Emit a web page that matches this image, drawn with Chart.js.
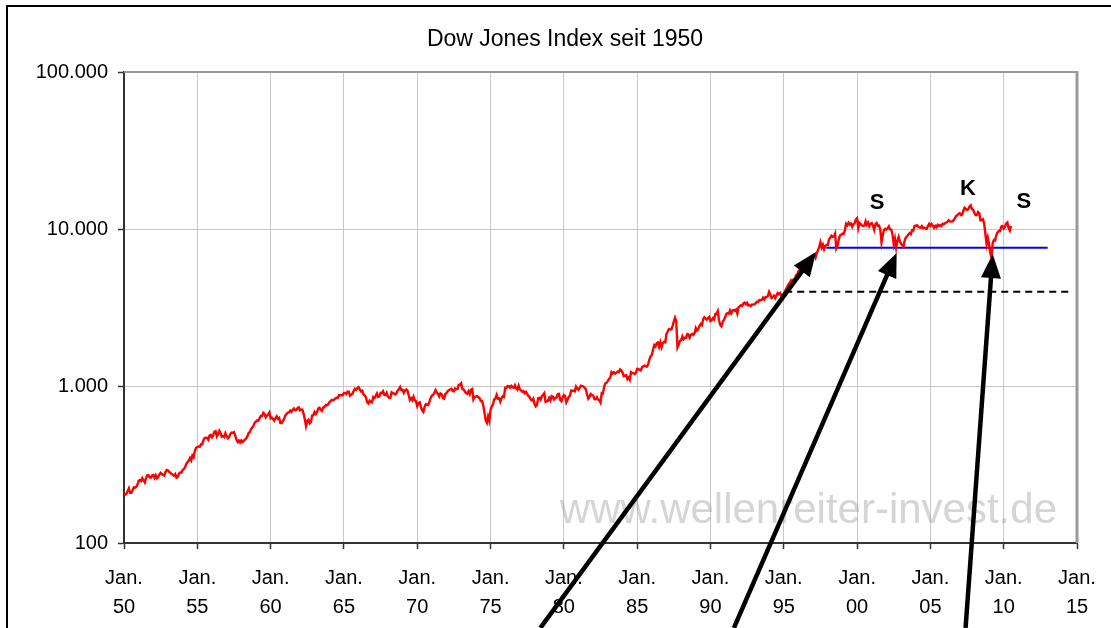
<!DOCTYPE html>
<html>
<head>
<meta charset="utf-8">
<script src="https://cdn.jsdelivr.net/npm/chart.js@4.4.1/dist/chart.umd.min.js"></script>
<style>
html,body{margin:0;padding:0;background:#fff;}
#wrap{position:relative;width:1111px;height:628px;overflow:hidden;}
canvas{display:block;}
</style>
</head>
<body>
<div id="wrap"><canvas id="c" width="1111" height="628"></canvas></div>
<script>
// ---------------- DATA ----------------
const chartTitle = 'Dow Jones Index seit 1950';
const startYear = 1950;          // first month: Jan 1950, one value per month
const dow1950s = [
  202,203,206,214,223,209,209,217,226,225,228,235,
  249,252,248,259,251,243,258,270,271,262,261,269,
  271,260,270,258,263,274,280,275,271,269,284,292,
  290,284,280,275,272,268,275,261,264,276,281,281,
  292,295,304,319,328,334,348,336,361,352,387,404,
  409,412,410,426,425,451,466,468,467,455,483,488,
  471,484,512,516,478,493,518,502,475,480,473,500,
  479,465,475,494,505,503,508,484,456,441,450,436,
  450,440,447,456,463,478,502,509,532,543,558,584,
  594,604,602,624,644,644,675,664,632,647,659,679
];
const dow1960s = [
  623,630,617,602,626,641,617,626,580,580,597,616,
  648,662,677,679,697,684,705,720,701,704,722,731,
  700,708,707,665,613,555,598,609,579,590,649,652,
  683,663,683,718,727,707,695,729,733,755,751,763,
  785,800,813,811,821,832,841,839,875,873,875,874,
  903,904,889,922,918,868,882,893,931,961,947,969,
  984,952,925,934,884,870,847,788,774,807,792,786,
  850,839,866,897,853,860,904,901,927,880,876,905,
  856,841,841,912,899,898,883,896,936,952,985,944,
  946,905,936,950,938,873,816,837,813,856,812,800
];
const dow1970s = [
  744,778,786,736,700,684,734,765,761,756,794,839,
  869,879,904,942,908,891,858,898,887,839,831,890,
  902,928,941,954,961,929,925,964,953,956,1018,1020,
  1040,955,951,921,901,892,926,888,947,957,822,851,
  856,861,847,837,802,802,757,679,608,584,640,600,
  704,739,768,821,832,879,832,835,794,836,861,852,
  975,973,1000,997,975,1003,985,974,1010,965,947,1005,
  954,936,919,927,899,916,890,862,847,818,810,831,
  770,742,757,837,841,819,862,877,900,793,799,805,
  839,809,862,855,822,842,846,888,890,816,800,839
];
const dow1980s = [
  876,863,786,817,851,868,935,933,932,925,993,964,
  947,975,1004,998,992,977,952,882,830,853,889,875,
  871,824,823,848,820,812,785,901,896,992,1039,1047,
  1076,1113,1130,1226,1200,1222,1199,1216,1233,1225,1276,1259,
  1221,1155,1165,1171,1105,1132,1095,1224,1207,1207,1189,1212,
  1287,1284,1267,1258,1315,1336,1348,1334,1329,1374,1472,1547,
  1571,1709,1819,1784,1877,1893,1775,1898,1768,1878,1914,1896,
  2158,2224,2305,2286,2292,2419,2572,2722,2596,1760,1834,1939,
  1958,2072,1988,2032,2031,2142,2129,2032,2113,2149,2115,2169,
  2342,2258,2294,2419,2480,2440,2661,2737,2693,2645,2706,2753
];
const dow1990s = [
  2591,2627,2707,2657,2877,2881,2999,2614,2453,2400,2560,2634,
  2736,2882,2914,2888,3028,2907,3025,3044,3017,3069,2895,3169,
  3223,3268,3236,3359,3397,3319,3394,3257,3272,3226,3305,3301,
  3310,3371,3435,3428,3527,3516,3540,3651,3555,3681,3684,3754,
  3978,3832,3636,3682,3758,3625,3765,3913,3843,3908,3739,3834,
  3844,4011,4158,4321,4465,4556,4709,4611,4789,4756,5075,5117,
  5395,5486,5587,5569,5643,5655,5529,5616,5882,6029,6522,6448,
  6813,6878,6584,7009,7331,7673,8223,7622,7945,7442,7823,7908,
  7907,8546,8800,9063,8900,8952,9338,7539,7843,8592,9117,9181,
  9359,9307,9786,10789,10560,10971,10655,10829,10337,10730,10878,11497
];
const dow2000s = [
  11723,10128,10922,10734,10522,10448,10522,11215,10651,10971,10415,10788,
  10887,10495,9879,10735,10912,10502,10523,9950,8236,9075,9852,10022,
  9920,10106,10404,9946,9925,9243,8000,8664,7592,8397,8896,8342,
  8054,7891,7700,8480,8850,8985,9234,9416,9275,9801,9783,10454,
  10488,10584,10358,10226,10189,10436,10140,10174,10080,10028,10428,10783,
  10490,10766,10504,10193,10468,10275,10641,10482,10569,10440,10806,10718,
  10865,10993,11109,11367,11168,11150,11186,11381,11679,12081,12222,12463,
  12622,12269,12354,13063,13628,13409,13212,13358,13896,14165,13372,13265,
  12650,12266,12263,12820,12638,11350,11378,11544,10851,9325,8000,8776,
  8001,7063,6547,8168,8500,8447,9172,9496,9712,9713,10345,10428
];
const dow2010s = [10067,10325,10857,11009,10137,9774,10466];

// Horizontal reference lines
const supportBlue = { from: 1997.9, to: 2013.0, level: 7600 };
const supportDashed = { from: 1995.1, to: 2014.7, level: 3990 };

// Axis ticks
const xTickYears = [1950,1955,1960,1965,1970,1975,1980,1985,1990,1995,2000,2005,2010,2015];
const xTickTop = 'Jan.';
const yTickValues = [100, 1000, 10000, 100000];
const yTickLabels = ['100', '1.000', '10.000', '100.000'];

// Annotations (data coordinates)
const arrowTails = [[1978.4, 28.8], [1991.6, 28.8], [2007.4, 28.8]];
const arrowTips  = [[1997.2, 7130], [2002.7, 7030], [2009.25, 6930]];
const markTexts  = ['S', 'K', 'S'];
const markYears  = [2001.37, 2007.57, 2011.37];
const markValues = [14590, 17900, 14930];
const watermarkText = 'www.wellenreiter-invest.de';

// ---------------- BUILD ----------------
const dowValues = [].concat(dow1950s, dow1960s, dow1970s, dow1980s, dow1990s, dow2000s, dow2010s);
const dowPoints = dowValues.map((v, i) => ({ x: startYear + i / 12, y: v }));

const FONT = "'Liberation Sans', Arial, sans-serif";
Chart.defaults.font.family = FONT;
Chart.defaults.color = '#000';

const decor = {
  id: 'decor',
  beforeDraw(chart) {
    const ctx = chart.ctx;
    ctx.save();
    ctx.fillStyle = '#fff';
    ctx.fillRect(0, 0, chart.width, chart.height);
    ctx.strokeStyle = '#000';
    ctx.lineWidth = 2;
    ctx.beginPath();
    ctx.moveTo(7, chart.height + 10);
    ctx.lineTo(7, 6);
    ctx.lineTo(chart.width + 10, 6);
    ctx.stroke();
    // title
    ctx.fillStyle = '#000';
    ctx.font = '23px ' + FONT;
    ctx.textAlign = 'center';
    ctx.textBaseline = 'middle';
    ctx.fillText(chartTitle, 565, 40);
    ctx.restore();
  },
  beforeDatasetsDraw(chart) {
    const ctx = chart.ctx, a = chart.chartArea;
    ctx.save();
    ctx.font = '42px ' + FONT;
    ctx.fillStyle = 'rgba(150,150,150,0.40)';
    ctx.textAlign = 'right';
    ctx.textBaseline = 'alphabetic';
    ctx.fillText(watermarkText, a.right - 20, a.bottom - 20);
    ctx.restore();
  },
  afterDraw(chart) {
    const ctx = chart.ctx, a = chart.chartArea;
    const xs = chart.scales.x, ys = chart.scales.y;
    ctx.save();
    // plot frame top / right
    ctx.strokeStyle = '#999';
    ctx.lineWidth = 2;
    ctx.beginPath();
    ctx.moveTo(a.left, a.top);
    ctx.lineTo(a.right, a.top);
    ctx.stroke();
    ctx.lineWidth = 3;
    ctx.beginPath();
    ctx.moveTo(a.right, a.top - 1);
    ctx.lineTo(a.right, a.bottom);
    ctx.stroke();
    // arrows
    ctx.strokeStyle = '#000';
    ctx.fillStyle = '#000';
    ctx.lineWidth = 4.5;
    ctx.lineCap = 'butt';
    for (let i = 0; i < arrowTips.length; i++) {
      const x0 = xs.getPixelForValue(arrowTails[i][0]);
      const y0 = ys.getPixelForValue(arrowTails[i][1]);
      const x1 = xs.getPixelForValue(arrowTips[i][0]);
      const y1 = ys.getPixelForValue(arrowTips[i][1]);
      const ang = Math.atan2(y1 - y0, x1 - x0);
      const hl = 24, hw = 10;
      const bx = x1 - hl * Math.cos(ang), by = y1 - hl * Math.sin(ang);
      ctx.beginPath();
      ctx.moveTo(x0, y0);
      ctx.lineTo(bx + 2 * Math.cos(ang), by + 2 * Math.sin(ang));
      ctx.stroke();
      ctx.beginPath();
      ctx.moveTo(x1, y1);
      ctx.lineTo(bx + hw * Math.sin(ang), by - hw * Math.cos(ang));
      ctx.lineTo(bx - hw * Math.sin(ang), by + hw * Math.cos(ang));
      ctx.closePath();
      ctx.fill();
    }
    // S / K marks
    ctx.font = 'bold 22px ' + FONT;
    ctx.textAlign = 'center';
    ctx.textBaseline = 'middle';
    for (let i = 0; i < markTexts.length; i++) {
      ctx.fillText(markTexts[i], xs.getPixelForValue(markYears[i]), ys.getPixelForValue(markValues[i]));
    }
    ctx.restore();
  }
};

new Chart(document.getElementById('c'), {
  type: 'line',
  data: {
    datasets: [
      {
        label: 'Dow Jones',
        data: dowPoints,
        borderColor: '#ff0000',
        borderWidth: 2.4,
        pointRadius: 0,
        tension: 0,
        order: 1
      },
      {
        label: 'Unterstützung',
        data: [{ x: supportBlue.from, y: supportBlue.level }, { x: supportBlue.to, y: supportBlue.level }],
        borderColor: '#0000ff',
        borderWidth: 2,
        pointRadius: 0,
        order: 2
      },
      {
        label: 'Linie',
        data: [{ x: supportDashed.from, y: supportDashed.level }, { x: supportDashed.to, y: supportDashed.level }],
        borderColor: '#000',
        borderWidth: 2,
        borderDash: [7, 5],
        pointRadius: 0,
        order: 3
      }
    ]
  },
  options: {
    responsive: false,
    animation: false,
    devicePixelRatio: 1,
    layout: { padding: { left: 0, right: 34, top: 72, bottom: 0 } },
    plugins: {
      legend: { display: false },
      tooltip: { enabled: false },
      title: { display: false }
    },
    scales: {
      x: {
        type: 'linear',
        position: 'bottom',
        min: xTickYears[0],
        max: xTickYears[xTickYears.length - 1],
        afterBuildTicks: s => { s.ticks = xTickYears.map(v => ({ value: v })); },
        afterFit: s => { s.height = 85; },
        ticks: {
          autoSkip: false,
          maxRotation: 0,
          padding: 15,
          color: '#000',
          font: { size: 20, lineHeight: 1.45 },
          callback: v => [xTickTop, String(v % 100).padStart(2, '0')]
        },
        grid: { color: '#c8c8c8', lineWidth: 1, tickLength: 6, tickColor: '#333', tickWidth: 1.5 },
        border: { color: '#333', width: 2 }
      },
      y: {
        type: 'logarithmic',
        position: 'left',
        min: yTickValues[0],
        max: yTickValues[yTickValues.length - 1],
        afterBuildTicks: s => { s.ticks = yTickValues.map(v => ({ value: v, major: true })); },
        afterFit: s => { s.width = 124; },
        ticks: {
          autoSkip: false,
          padding: 10,
          color: '#000',
          font: { size: 20 },
          callback: v => yTickLabels[yTickValues.indexOf(v)]
        },
        grid: { color: '#c8c8c8', lineWidth: 1, tickLength: 6, tickColor: '#333', tickWidth: 1.5 },
        border: { color: '#333', width: 2 }
      }
    }
  },
  plugins: [decor]
});
</script>
</body>
</html>
